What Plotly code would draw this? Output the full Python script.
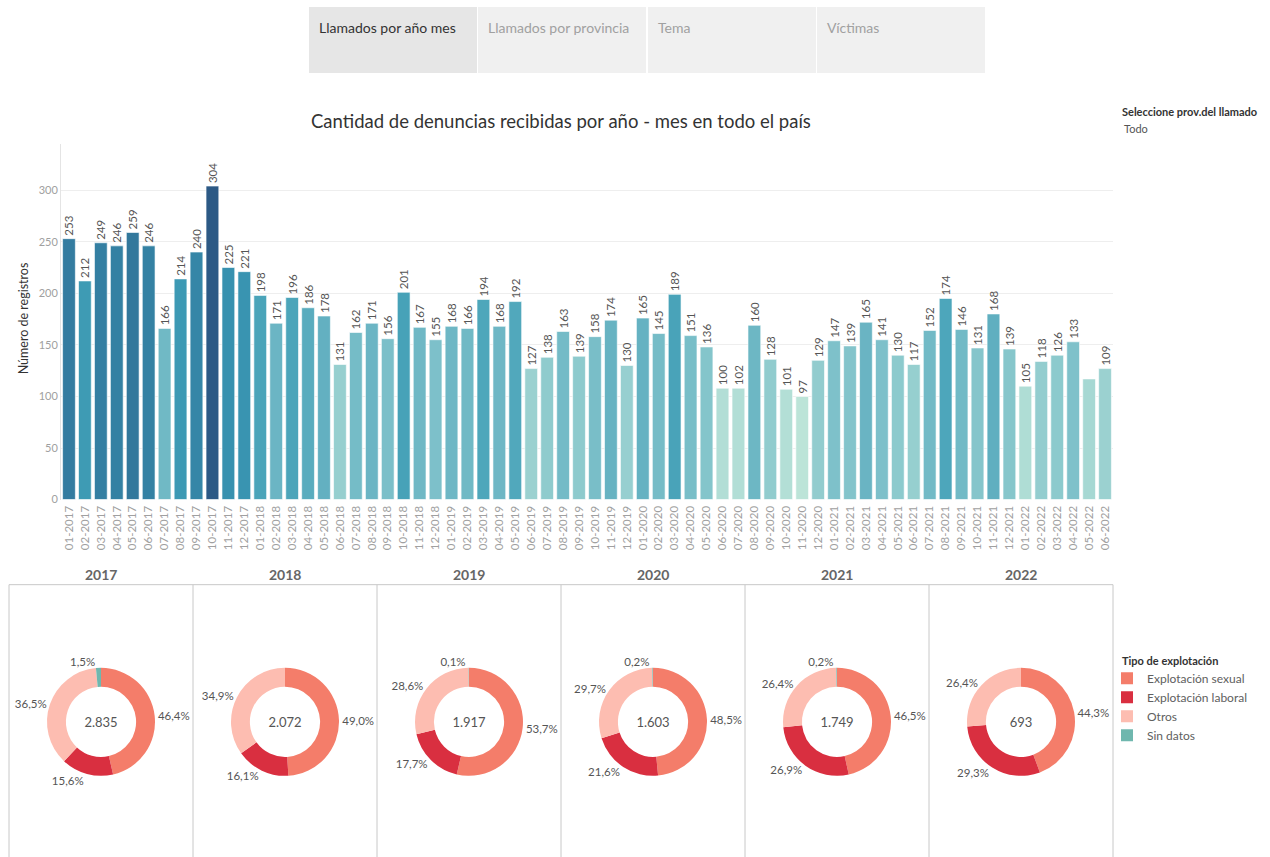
import plotly.graph_objects as go

W, H = 1270, 857
H_MAP = 850  # vertical mapping compensating the rendered page scale
def fx(px): return px / W
def fy(py): return 1 - py / H_MAP

FONT = "Lato"

# ---------------- data ----------------
anios = ["2017", "2018", "2019", "2020", "2021", "2022"]
meses_por_anio = [12, 12, 12, 12, 12, 6]
periodos = [f"{m:02d}-{a}" for a, n in zip(anios, meses_por_anio) for m in range(1, n + 1)]

# value printed on each bar
etiquetas = [
    253, 212, 249, 246, 259, 246, 166, 214, 240, 304, 225, 221,
    198, 171, 196, 186, 178, 131, 162, 171, 156, 201, 167, 155,
    168, 166, 194, 168, 192, 127, 138, 163, 139, 158, 174, 130,
    165, 145, 189, 151, 136, 100, 102, 160, 128, 101, 97, 129,
    147, 139, 165, 141, 130, 117, 152, 174, 146, 131, 168, 139,
    105, 118, 126, 133, None, 109,
]
# bar height as drawn against the axis
alturas = [
    253, 212, 249, 246, 259, 246, 166, 214, 240, 304, 225, 221,
    198, 171, 196, 186, 178, 131, 162, 171, 156, 201, 167, 155,
    168, 166, 194, 168, 192, 127, 138, 163, 139, 158, 174, 130,
    176, 161, 199, 159, 148, 108, 108, 169, 136, 107, 100, 135,
    154, 149, 172, 155, 140, 131, 164, 195, 165, 147, 180, 146,
    110, 134, 140, 153, 117, 127,
]

tipos = ["Explotación sexual", "Explotación laboral", "Otros", "Sin datos"]
colores_tipos = ["#f47d6a", "#d92f40", "#fdbdb1", "#6fb7ae"]
porcentajes = {
    "2017": [46.4, 15.6, 36.5, 1.5],
    "2018": [49.0, 16.1, 34.9, 0.0],
    "2019": [53.7, 17.7, 28.6, 0.1],
    "2020": [48.5, 21.6, 29.7, 0.2],
    "2021": [46.5, 26.9, 26.4, 0.2],
    "2022": [44.3, 29.3, 26.4, 0.0],
}
totales = ["2.835", "2.072", "1.917", "1.603", "1.749", "693"]

tabs = ["Llamados por año mes", "Llamados por provincia", "Tema", "Víctimas"]

blue_teal = ["#bce4d8", "#aedcd5", "#a1d5d2", "#95cecf", "#89c8cc", "#7ec1ca", "#72bac6",
             "#66b2c2", "#59acbe", "#4ba5ba", "#419eb6", "#3b96b2", "#358ead", "#3586a7",
             "#347ea1", "#32779b", "#316f96", "#2f6790", "#2d608a", "#2c5985"]
colorscale = [[i / (len(blue_teal) - 1), c] for i, c in enumerate(blue_teal)]

fig = go.Figure()

# ---------------- bar chart ----------------
fig.add_trace(go.Bar(
    x=periodos, y=alturas,
    text=["" if v is None else str(v) for v in etiquetas],
    texttemplate="%{text}",
    textposition="outside", textangle=-90, constraintext="none", cliponaxis=False,
    textfont=dict(family=FONT, size=11.5, color="#555555"),
    marker=dict(color=alturas, colorscale=colorscale, cmin=min(alturas), cmax=max(alturas),
                line=dict(color="rgba(255,255,255,0.6)", width=1)),
    showlegend=False, hoverinfo="x+y",
))

fig.update_layout(
    xaxis=dict(domain=[fx(61), fx(1113)], anchor="y", type="category",
               tickangle=-90, tickfont=dict(family=FONT, size=11.5, color="#a0a0a0"),
               showgrid=False, showline=False, ticks="", ticklabelstandoff=3),
    yaxis=dict(domain=[fy(499), fy(143.6)], range=[0, 345], anchor="x",
               tickvals=[0, 50, 100, 150, 200, 250, 300],
               tickfont=dict(family=FONT, size=11, color="#a0a0a0"),
               showgrid=True, gridcolor="#eeeeee", gridwidth=1, zeroline=False,
               showline=True, linecolor="#e4e4e4", linewidth=1, ticks=""),
    bargap=0.2,
)

# ---------------- donuts ----------------
centros_x = [101, 285, 469, 653, 837, 1021]
cy = 721
r = 54
for i, anio in enumerate(anios):
    vals = porcentajes[anio]
    txt = [("" if v == 0 else (f"{v:.1f}%".replace(".", ","))) for v in vals]
    cx = centros_x[i]
    fig.add_trace(go.Pie(
        labels=tipos, values=vals, text=txt, texttemplate="%{text}",
        textposition="outside", sort=False, direction="clockwise", rotation=0,
        hole=0.65, marker=dict(colors=colores_tipos, line=dict(width=0)),
        outsidetextfont=dict(family=FONT, size=11.5, color="#555555"),
        domain=dict(x=[fx(cx - r), fx(cx + r)], y=[fy(cy + r), fy(cy - r)]),
        title=dict(text=totales[i], position="middle center",
                   font=dict(family=FONT, size=13, color="#555555")),
        showlegend=(i == 0), legendgroup="tipos", hoverinfo="label+percent",
    ))

shapes = []
# tabs
tab_x = [(309, 477), (478, 646), (648, 816), (817, 985)]
for j, (x0, x1) in enumerate(tab_x):
    shapes.append(dict(type="rect", xref="paper", yref="paper",
                       x0=fx(x0), x1=fx(x1), y0=fy(73), y1=fy(7),
                       fillcolor="#e6e6e6" if j == 0 else "#f0f0f0", line=dict(width=0), layer="below"))
# donut panel borders
for xv in [9, 193, 377, 561, 745, 929, 1113]:
    shapes.append(dict(type="line", xref="paper", yref="paper", x0=fx(xv), x1=fx(xv),
                       y0=fy(857), y1=fy(584), line=dict(color="#c8c8c8", width=1)))
shapes.append(dict(type="line", xref="paper", yref="paper", x0=fx(9), x1=fx(1113),
                   y0=fy(584), y1=fy(584), line=dict(color="#c8c8c8", width=1)))

annotations = []
for j, (x0, x1) in enumerate(tab_x):
    annotations.append(dict(text=tabs[j], xref="paper", yref="paper", x=fx(x0 + 8), y=fy(27),
                            xanchor="left", yanchor="middle", showarrow=False,
                            font=dict(family=FONT, size=14, color="#333333" if j == 0 else "#a0a0a0")))
annotations.append(dict(text="Cantidad de denuncias recibidas por año - mes en todo el país",
                        xref="paper", yref="paper", x=fx(561), y=fy(121), xanchor="center",
                        yanchor="middle", showarrow=False,
                        font=dict(family=FONT, size=18.5, color="#333333")))
annotations.append(dict(text="<b>Seleccione prov.del llamado</b>", xref="paper", yref="paper",
                        x=fx(1120), y=fy(111), xanchor="left", yanchor="middle", showarrow=False,
                        font=dict(family=FONT, size=11, color="#333333")))
annotations.append(dict(text="Todo", xref="paper", yref="paper",
                        x=fx(1122), y=fy(128), xanchor="left", yanchor="middle", showarrow=False,
                        font=dict(family=FONT, size=11, color="#555555")))
annotations.append(dict(text="Número de registros", xref="paper", yref="paper",
                        x=fx(23), y=fy(318), xanchor="center", yanchor="middle", showarrow=False,
                        textangle=-90, font=dict(family=FONT, size=12.5, color="#333333")))
annotations.append(dict(text="<b>Tipo de explotación</b>", xref="paper", yref="paper",
                        x=fx(1120), y=fy(660), xanchor="left", yanchor="middle", showarrow=False,
                        font=dict(family=FONT, size=11, color="#333333")))
for i, anio in enumerate(anios):
    annotations.append(dict(text="<b>" + anio + "</b>", xref="paper", yref="paper",
                            x=fx(centros_x[i]), y=fy(574), xanchor="center", yanchor="middle",
                            showarrow=False, font=dict(family=FONT, size=14, color="#666666")))

fig.update_layout(
    width=W, height=H, autosize=False, margin=dict(l=0, r=0, t=0, b=0),
    paper_bgcolor="white", plot_bgcolor="white",
    shapes=shapes, annotations=annotations,
    font=dict(family=FONT),
    legend=dict(x=fx(1107), y=fy(663), xanchor="left", yanchor="top",
                font=dict(family=FONT, size=12, color="#606060"),
                bgcolor="rgba(0,0,0,0)", itemwidth=30, tracegroupgap=0),
)

fig.write_html("out.html",
               config={"displayModeBar": False, "responsive": False},
               post_script="document.body.style.margin='0';document.body.style.overflow='hidden';")
